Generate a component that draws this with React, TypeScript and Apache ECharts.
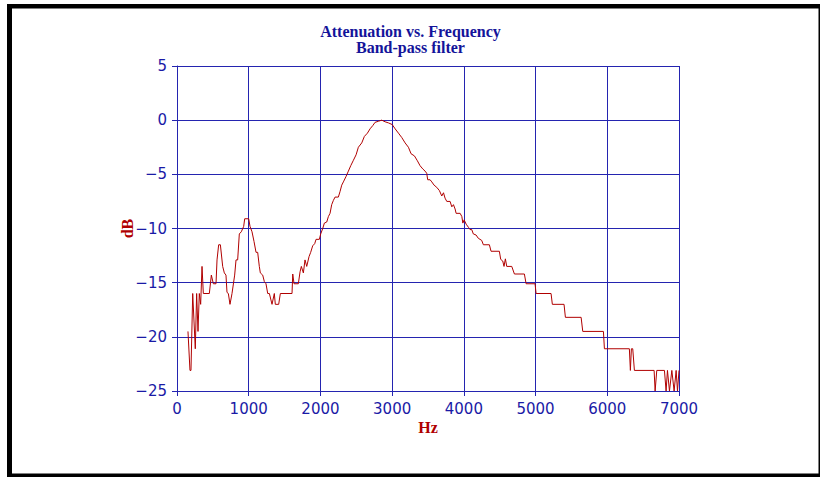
import React, { useEffect, useRef } from "react";
import * as echarts from "echarts";

const titleLine1 = "Attenuation vs. Frequency";
const titleLine2 = "Band-pass filter";
const xName = "Hz";
const yName = "dB";

const freqHz = [
  153, 181, 195, 219, 255, 274, 293, 311, 330, 349, 367, 451, 479, 507, 544, 558, 581, 605, 637, 660,
  683, 697, 716, 739, 767, 804, 823, 846, 869, 897, 930, 944, 1000, 1018, 1046, 1074, 1102, 1125, 1148, 1162,
  1195, 1218, 1241, 1265, 1288, 1325, 1357, 1371, 1418, 1441, 1604, 1614, 1632, 1692, 1716, 1734, 1762, 1785, 1809, 1841,
  1864, 1892, 1920, 1939, 1985, 2004, 2032, 2055, 2088, 2111, 2134, 2157, 2181, 2204, 2250, 2273, 2297, 2320, 2357, 2390,
  2423, 2460, 2497, 2529, 2576, 2613, 2655, 2692, 2730, 2762, 2809, 2855, 2902, 2948, 3000, 3042, 3088, 3134, 3181, 3227,
  3264, 3311, 3352, 3389, 3427, 3459, 3482, 3496, 3529, 3553, 3585, 3622, 3659, 3692, 3716, 3738, 3762, 3808, 3832, 3855,
  3878, 3892, 3948, 3972, 3986, 4004, 4032, 4065, 4086, 4110, 4132, 4170, 4201, 4249, 4272, 4356, 4379, 4495, 4514, 4542,
  4560, 4579, 4598, 4668, 4705, 4844, 4868, 4993, 5007, 5216, 5234, 5397, 5416, 5635, 5658, 5946, 5960, 6308, 6322, 6336,
  6355, 6378, 6653, 6667, 6690, 6797, 6820, 6839, 6867, 6900, 6932, 6960, 6979, 7000,
];

const attenuationDb = [
  -19.5, -23.1, -23.1, -16.0, -21.1, -16.0, -19.5, -16.0, -17.0, -13.5, -16.0, -16.0, -14.3, -15.1, -15.1, -12.9, -11.5, -11.5, -13.5, -14.1,
  -14.3, -15.9, -16.0, -17.0, -16.0, -14.3, -12.9, -12.9, -10.5, -10.3, -9.8, -9.1, -9.1, -9.8, -10.3, -11.2, -12.2, -12.2, -13.5, -14.1,
  -14.3, -14.9, -15.1, -16.0, -16.0, -17.0, -16.0, -17.0, -17.0, -16.0, -16.0, -14.2, -15.1, -15.1, -14.0, -13.5, -14.1, -12.9, -13.5, -12.6,
  -12.2, -11.6, -11.4, -11.0, -11.0, -10.5, -10.0, -9.5, -9.4, -8.9, -8.6, -7.8, -7.4, -7.1, -7.1, -6.6, -6.0, -5.7, -5.2, -4.7,
  -4.2, -3.7, -3.2, -2.5, -2.1, -1.5, -1.2, -0.8, -0.5, -0.2, -0.1, 0, -0.15, -0.25, -0.4, -0.8, -1.2, -1.6, -2.1, -2.5,
  -3.1, -3.3, -3.75, -4.2, -4.5, -4.7, -4.9, -5.5, -5.5, -5.7, -6.0, -6.2, -6.5, -7.0, -6.7, -7.2, -7.5, -7.5, -8.0, -7.8,
  -8.2, -8.6, -8.6, -8.9, -9.5, -9.2, -9.6, -9.9, -10.1, -10.1, -10.5, -10.6, -10.9, -11.1, -11.5, -11.5, -12.1, -12.1, -12.85, -13.0,
  -13.5, -12.8, -13.5, -13.5, -14.2, -14.2, -15.1, -15.1, -16.0, -16.0, -17.0, -17.0, -18.2, -18.2, -19.5, -19.5, -21.1, -21.1, -23.1, -21.1,
  -21.1, -23.1, -23.1, -25, -23.1, -23.1, -25, -23.1, -25, -23.1, -25, -23.1, -25, -23.1,
];

const xMin = 0;
const xMax = 7000;
const xStep = 1000;
const yMin = -25;
const yMax = 5;
const yStep = 5;

const BLUE = "#1a1aa6";
const GRID_BLUE = "#2424b0";
const RED = "#b00000";
const TITLE_BLUE = "#14149a";

export default function App() {
  const ref = useRef<HTMLDivElement>(null);

  useEffect(() => {
    if (!ref.current) return;
    const chart = echarts.init(ref.current, undefined, { renderer: "svg" });
    const data = freqHz.map((f, i) => [f, attenuationDb[i]]);
    const titleFont = {
      fontFamily: "Liberation Serif",
      fontWeight: "bold" as const,
      fontSize: 16,
      lineHeight: 15,
      color: TITLE_BLUE,
    };
    chart.setOption({
      animation: false,
      backgroundColor: "#ffffff",
      title: {
        text: titleLine1,
        subtext: titleLine2,
        left: "center",
        top: 19,
        itemGap: 0,
        textStyle: titleFont,
        subtextStyle: titleFont,
      },
      grid: { left: 177, right: 142, top: 66, bottom: 86, containLabel: false },
      xAxis: {
        type: "value",
        min: xMin,
        max: xMax,
        interval: xStep,
        name: xName,
        nameLocation: "middle",
        nameGap: 28,
        nameMoveOverlap: false,
        nameTextStyle: {
          fontFamily: "Liberation Serif",
          fontWeight: "bold",
          fontSize: 16,
          color: RED,
        },
        axisLine: { show: true, onZero: false, lineStyle: { color: GRID_BLUE, width: 1 } },
        axisTick: { show: true, length: 5, lineStyle: { color: GRID_BLUE } },
        axisLabel: {
          margin: 10,
          fontFamily: "DejaVu Sans",
          fontSize: 15,
          color: BLUE,
          formatter: (v: number) => String(v),
        },
        splitLine: { show: true, lineStyle: { color: GRID_BLUE, width: 1 } },
      },
      yAxis: {
        type: "value",
        min: yMin,
        max: yMax,
        interval: yStep,
        name: yName,
        nameLocation: "middle",
        nameGap: 42,
        nameMoveOverlap: false,
        nameTextStyle: {
          fontFamily: "Liberation Serif",
          fontWeight: "bold",
          fontSize: 16,
          color: RED,
        },
        axisLine: { show: true, onZero: false, lineStyle: { color: GRID_BLUE, width: 1 } },
        axisTick: { show: true, length: 5, lineStyle: { color: GRID_BLUE } },
        axisLabel: {
          margin: 10,
          fontFamily: "DejaVu Sans",
          fontSize: 15,
          color: BLUE,
          formatter: (v: number) => String(v).replace("-", "\u2212"),
        },
        splitLine: { show: true, lineStyle: { color: GRID_BLUE, width: 1 } },
      },
      series: [
        {
          type: "line",
          data,
          showSymbol: false,
          symbol: "none",
          clip: true,
          lineStyle: { color: RED, width: 1 },
          itemStyle: { color: RED },
        },
      ],
      graphic: [
        { type: "rect", shape: { x: 7, y: 4, width: 813, height: 4.5 }, style: { fill: "#000" } },
        { type: "rect", shape: { x: 7, y: 4, width: 5, height: 473 }, style: { fill: "#000" } },
        { type: "rect", shape: { x: 7, y: 473.5, width: 813, height: 3.5 }, style: { fill: "#000" } },
        { type: "rect", shape: { x: 818.5, y: 4, width: 1.5, height: 473 }, style: { fill: "#000" } },
      ],
    });
    return () => chart.dispose();
  }, []);

  return (
    <div
      ref={ref}
      style={{ position: "fixed", left: 0, top: 0, width: 821, height: 477, background: "#fff" }}
    />
  );
}
